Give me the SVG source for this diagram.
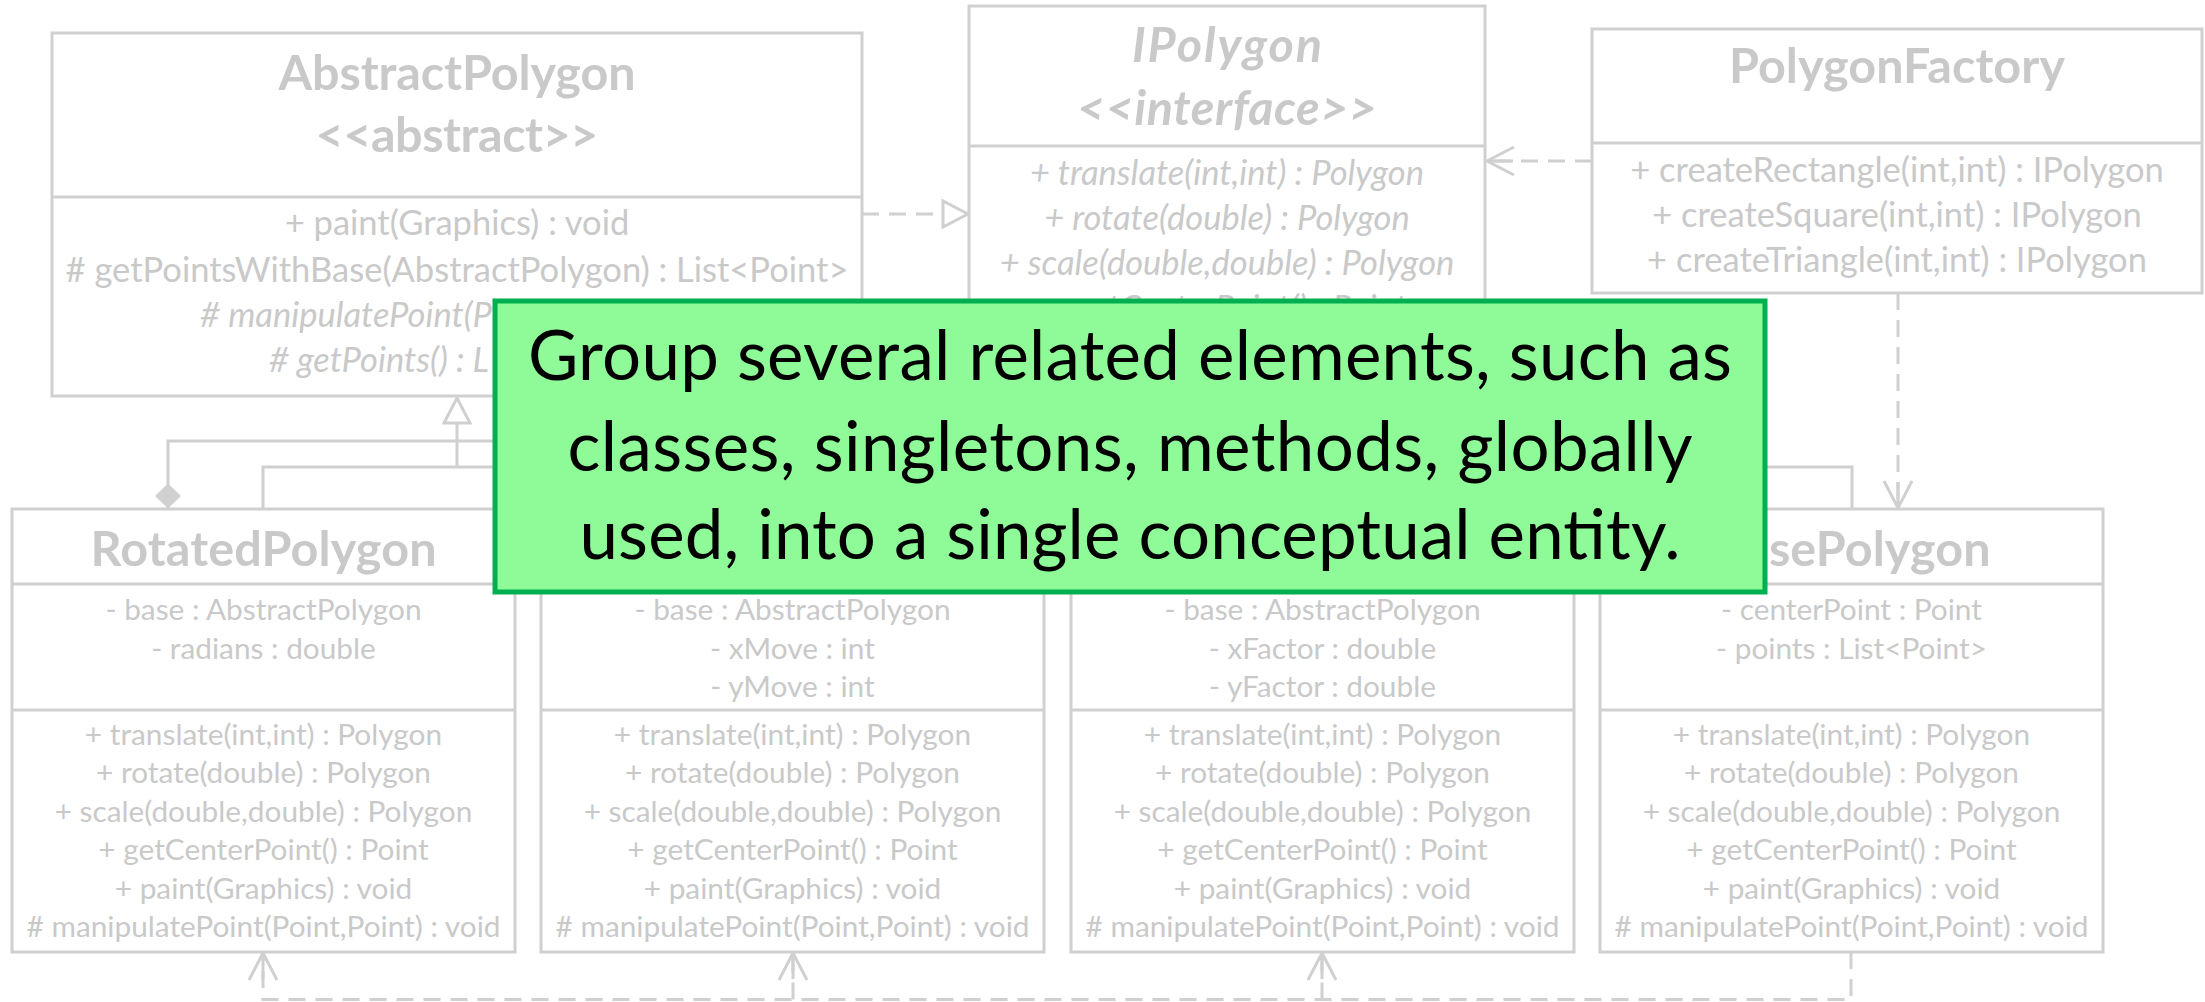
<svg xmlns="http://www.w3.org/2000/svg" width="2205" height="1002" viewBox="0 0 2205 1002">
<defs>
<style>
.box{fill:#fff;stroke:#d0d0d0;stroke-width:3}
.ln{fill:none;stroke:#d0d0d0;stroke-width:3}
.dash{stroke-dasharray:17 10}
.t{font-family:Lato,"Open Sans",sans-serif;fill:#c9c9c9;text-anchor:middle}
.ttl{font-size:48.5px;font-weight:bold}
.m{font-size:34.5px}
.s{font-size:29.8px}
.i{font-style:italic}
.e{text-anchor:end}
.cbox{fill:#8ffb98;stroke:#00b050;stroke-width:5}
.ct{font-family:Lato,"Open Sans",sans-serif;font-size:69px;fill:#000;text-anchor:middle}
</style>
<marker id="open" markerUnits="userSpaceOnUse" markerWidth="40" markerHeight="40" viewBox="-30 -20 40 40" refX="0" refY="0" orient="auto" overflow="visible">
<path d="M-27,-14 L0,0 L-27,14 M-26,0 L0,0" fill="none" stroke="#d0d0d0" stroke-width="3"/>
</marker>
<marker id="tri" markerUnits="userSpaceOnUse" markerWidth="40" markerHeight="40" viewBox="-30 -20 40 40" refX="0" refY="0" orient="auto" overflow="visible">
<path d="M0,0 L-25,-13 L-25,13 Z" fill="#fff" stroke="#d0d0d0" stroke-width="3"/>
</marker>
<marker id="diamond" markerUnits="userSpaceOnUse" markerWidth="40" markerHeight="40" viewBox="-30 -20 40 40" refX="0" refY="0" orient="auto" overflow="visible">
<path d="M0,0 L-12,-12.5 L-24,0 L-12,12.5 Z" fill="#d0d0d0" stroke="#d0d0d0" stroke-width="1"/>
</marker>
</defs>
<rect width="2205" height="1002" fill="#fff"/>

<g id="connectors">
<path class="ln dash" d="M862,214 H968" marker-end="url(#tri)"/>
<path class="ln dash" d="M1592,161 H1487" marker-end="url(#open)"/>
<path class="ln dash" d="M1898,293 V508" marker-end="url(#open)"/>
<path class="ln" d="M263,509 V467 H1852 V509"/>
<path class="ln" d="M457,467 V398" marker-end="url(#tri)"/>
<path class="ln" d="M600,396 V441 H168 V508" marker-end="url(#diamond)"/>
<path class="ln dash" d="M1851,952 V999.5 H263 V953" marker-end="url(#open)"/>
<path class="ln dash" d="M793,999.5 V953" marker-end="url(#open)"/>
<path class="ln dash" d="M1322,999.5 V953" marker-end="url(#open)"/>
</g>

<g id="AbstractPolygon">
<rect class="box" x="52" y="33" width="810" height="363"/>
<line class="ln" x1="52" y1="197" x2="862" y2="197"/>
<text class="t ttl" x="457" y="90" textLength="357">AbstractPolygon</text>
<text class="t ttl" x="457" y="152" textLength="283">&lt;&lt;abstract&gt;&gt;</text>
<text class="t m" x="457" y="235">+ paint(Graphics) : void</text>
<text class="t m" x="457" y="282"># getPointsWithBase(AbstractPolygon) : List&lt;Point&gt;</text>
<text class="t m i e" x="492" y="327"># manipulatePoint(P</text>
<text class="t m i e" x="489" y="372"># getPoints() : L</text>
</g>

<g id="IPolygon">
<rect class="box" x="969" y="6" width="516" height="414"/>
<line class="ln" x1="969" y1="146" x2="1485" y2="146"/>
<text class="t ttl i" x="1227" y="62" textLength="190">IPolygon</text>
<text class="t ttl i" x="1227" y="125" textLength="300">&lt;&lt;interface&gt;&gt;</text>
<text class="t m i" x="1227" y="185">+ translate(int,int) : Polygon</text>
<text class="t m i" x="1227" y="230">+ rotate(double) : Polygon</text>
<text class="t m i" x="1227" y="275">+ scale(double,double) : Polygon</text>
<text class="t m i" x="1227" y="320">+ getCenterPoint() : Point</text>
</g>

<g id="PolygonFactory">
<rect class="box" x="1592" y="29" width="610" height="264"/>
<line class="ln" x1="1592" y1="143" x2="2202" y2="143"/>
<text class="t ttl" x="1897" y="83" textLength="336">PolygonFactory</text>
<text class="t m" x="1897" y="182">+ createRectangle(int,int) : IPolygon</text>
<text class="t m" x="1897" y="227">+ createSquare(int,int) : IPolygon</text>
<text class="t m" x="1897" y="272">+ createTriangle(int,int) : IPolygon</text>
</g>

<g id="RotatedPolygon">
<rect class="box" x="12" y="509" width="503" height="443"/>
<line class="ln" x1="12" y1="584" x2="515" y2="584"/>
<line class="ln" x1="12" y1="710" x2="515" y2="710"/>
<text class="t ttl" x="263.5" y="566" textLength="346">RotatedPolygon</text>
<text class="t s" x="263.5" y="620">- base : AbstractPolygon</text>
<text class="t s" x="263.5" y="658.5">- radians : double</text>
<text class="t s" x="263.5" y="745">+ translate(int,int) : Polygon</text>
<text class="t s" x="263.5" y="783.4">+ rotate(double) : Polygon</text>
<text class="t s" x="263.5" y="821.8">+ scale(double,double) : Polygon</text>
<text class="t s" x="263.5" y="860.2">+ getCenterPoint() : Point</text>
<text class="t s" x="263.5" y="898.6">+ paint(Graphics) : void</text>
<text class="t s" x="263.5" y="937"># manipulatePoint(Point,Point) : void</text>
</g>

<g id="TranslatedPolygon">
<rect class="box" x="541" y="509" width="503" height="443"/>
<line class="ln" x1="541" y1="584" x2="1044" y2="584"/>
<line class="ln" x1="541" y1="710" x2="1044" y2="710"/>
<text class="t s" x="792.5" y="620">- base : AbstractPolygon</text>
<text class="t s" x="792.5" y="658.5">- xMove : int</text>
<text class="t s" x="792.5" y="697">- yMove : int</text>
<text class="t s" x="792.5" y="745">+ translate(int,int) : Polygon</text>
<text class="t s" x="792.5" y="783.4">+ rotate(double) : Polygon</text>
<text class="t s" x="792.5" y="821.8">+ scale(double,double) : Polygon</text>
<text class="t s" x="792.5" y="860.2">+ getCenterPoint() : Point</text>
<text class="t s" x="792.5" y="898.6">+ paint(Graphics) : void</text>
<text class="t s" x="792.5" y="937"># manipulatePoint(Point,Point) : void</text>
</g>

<g id="ScaledPolygon">
<rect class="box" x="1071" y="509" width="503" height="443"/>
<line class="ln" x1="1071" y1="584" x2="1574" y2="584"/>
<line class="ln" x1="1071" y1="710" x2="1574" y2="710"/>
<text class="t s" x="1322.5" y="620">- base : AbstractPolygon</text>
<text class="t s" x="1322.5" y="658.5">- xFactor : double</text>
<text class="t s" x="1322.5" y="697">- yFactor : double</text>
<text class="t s" x="1322.5" y="745">+ translate(int,int) : Polygon</text>
<text class="t s" x="1322.5" y="783.4">+ rotate(double) : Polygon</text>
<text class="t s" x="1322.5" y="821.8">+ scale(double,double) : Polygon</text>
<text class="t s" x="1322.5" y="860.2">+ getCenterPoint() : Point</text>
<text class="t s" x="1322.5" y="898.6">+ paint(Graphics) : void</text>
<text class="t s" x="1322.5" y="937"># manipulatePoint(Point,Point) : void</text>
</g>

<g id="BasePolygon">
<rect class="box" x="1600" y="509" width="503" height="443"/>
<line class="ln" x1="1600" y1="584" x2="2103" y2="584"/>
<line class="ln" x1="1600" y1="710" x2="2103" y2="710"/>
<text class="t ttl" x="1851.5" y="566" textLength="278">BasePolygon</text>
<text class="t s" x="1851.5" y="620">- centerPoint : Point</text>
<text class="t s" x="1851.5" y="658.5">- points : List&lt;Point&gt;</text>
<text class="t s" x="1851.5" y="745">+ translate(int,int) : Polygon</text>
<text class="t s" x="1851.5" y="783.4">+ rotate(double) : Polygon</text>
<text class="t s" x="1851.5" y="821.8">+ scale(double,double) : Polygon</text>
<text class="t s" x="1851.5" y="860.2">+ getCenterPoint() : Point</text>
<text class="t s" x="1851.5" y="898.6">+ paint(Graphics) : void</text>
<text class="t s" x="1851.5" y="937"># manipulatePoint(Point,Point) : void</text>
</g>

<g id="callout">
<rect class="cbox" x="495" y="301" width="1270" height="291"/>
<text class="ct" x="1130" y="380" textLength="1204">Group several related elements, such as</text>
<text class="ct" x="1130" y="471" textLength="1125">classes, singletons, methods, globally</text>
<text class="ct" x="1130" y="559" textLength="1101">used, into a single conceptual entity.</text>
</g>
</svg>
